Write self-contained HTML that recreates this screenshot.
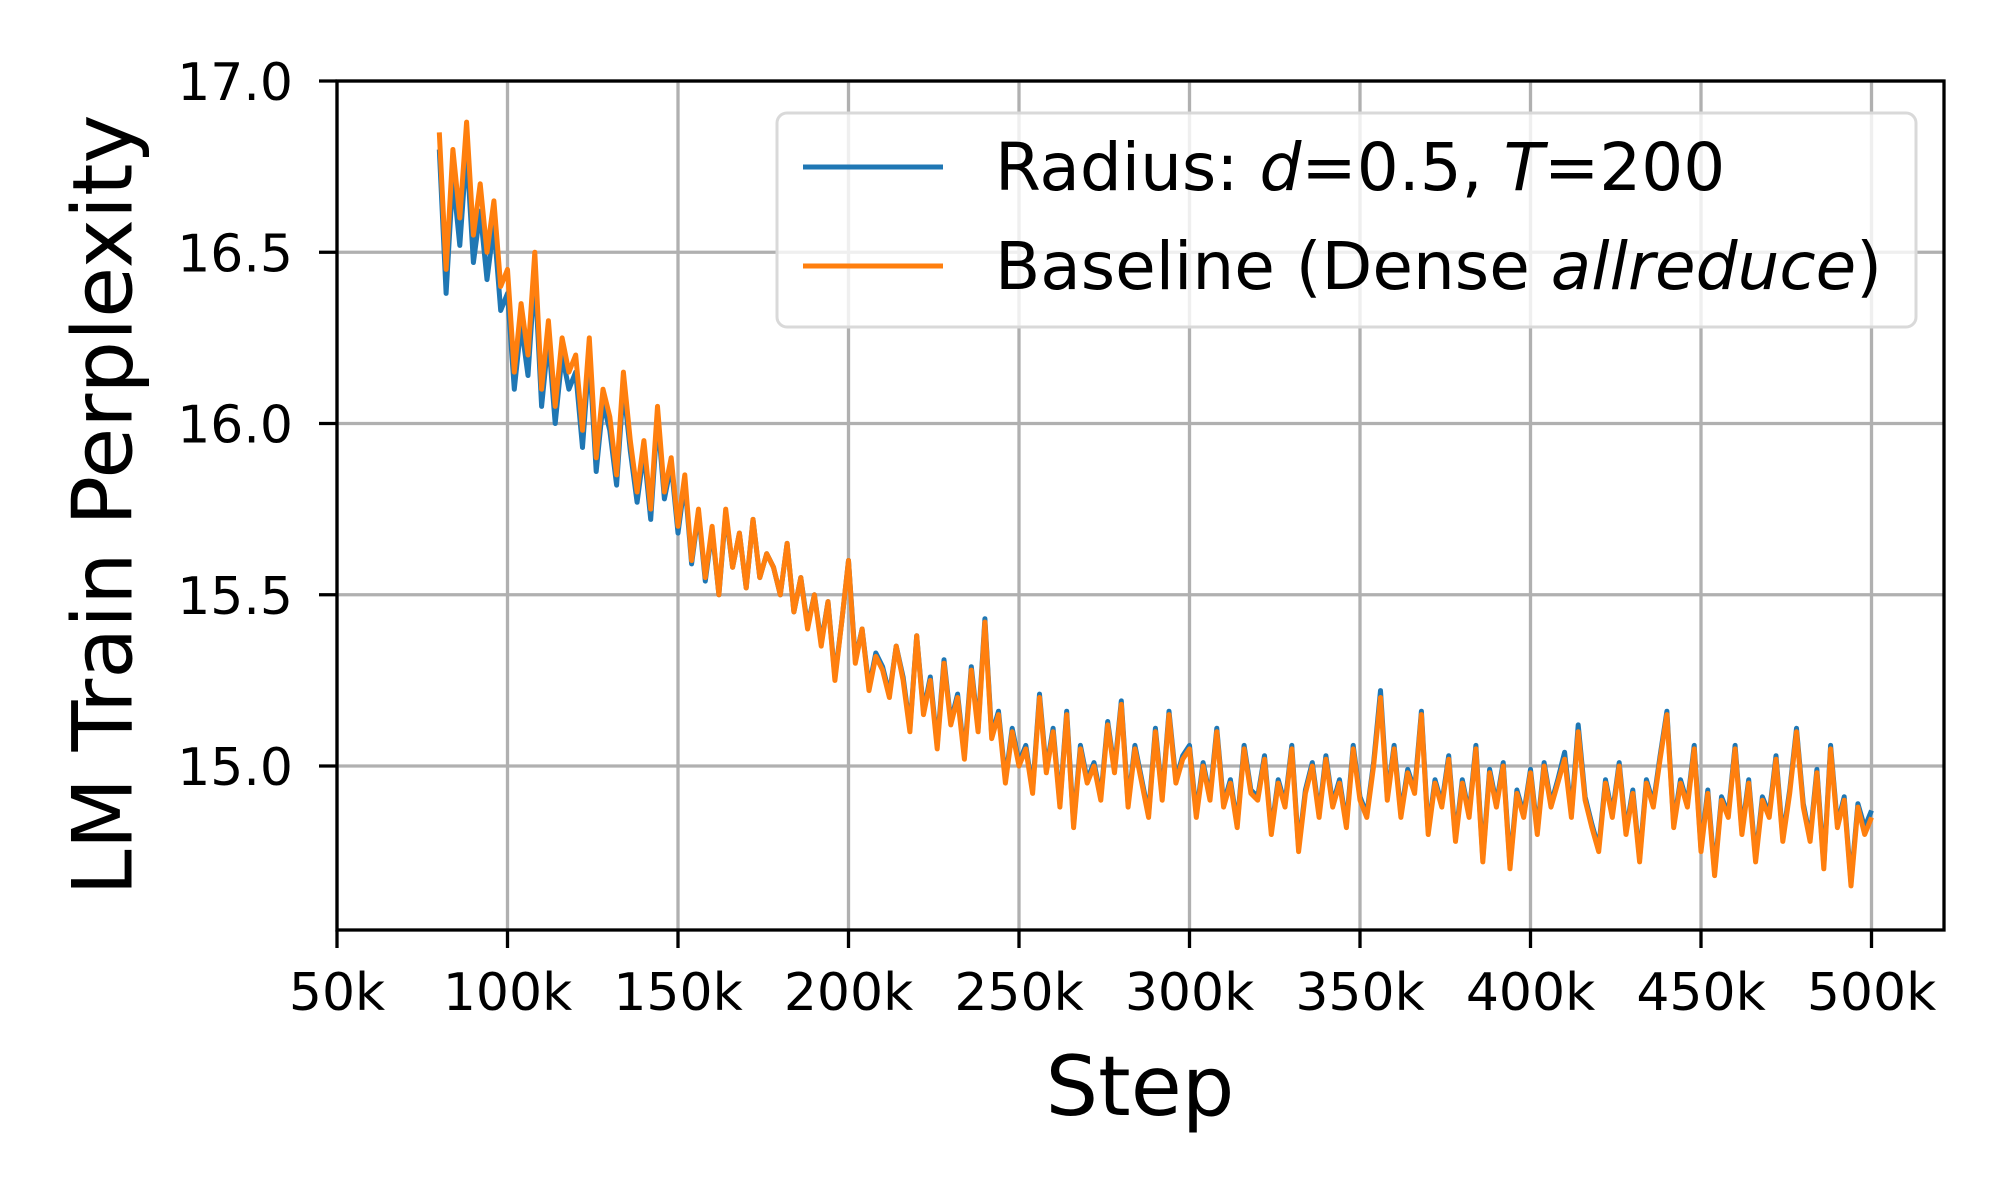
<!DOCTYPE html>
<html><head><meta charset="utf-8">
<style>
html,body{margin:0;padding:0;background:#fff;}
svg{display:block;font-family:"DejaVu Sans","Liberation Sans",sans-serif;}
</style></head>
<body>
<svg id="chart" width="2000" height="1200" viewBox="0 0 2000 1200" xmlns="http://www.w3.org/2000/svg">
<rect width="2000" height="1200" fill="#fff"/>
<g id="grid"></g>
<g id="series"></g>
<rect x="337" y="81" width="1607" height="849" fill="none" stroke="#000" stroke-width="3.3"/>
<g id="ticks"></g>
<text x="103" y="505" font-size="83" text-anchor="middle" dominant-baseline="central" transform="rotate(-90 103 505)">LM Train Perplexity</text>
<text x="1140" y="1115" font-size="83" text-anchor="middle">Step</text>
<g>
<rect x="777" y="113" width="1139" height="214" rx="10" fill="#fff" fill-opacity="0.8" stroke="#d9d9d9" stroke-width="3"/>
<line x1="803" y1="167" x2="943" y2="167" stroke="#1f77b4" stroke-width="5"/>
<text x="995" y="190" font-size="66">Radius: <tspan font-style="italic">d</tspan>=0.5, <tspan font-style="italic">T</tspan>=200</text>
<line x1="803" y1="266" x2="943" y2="266" stroke="#ff7f0e" stroke-width="5"/>
<text x="995" y="289" font-size="66">Baseline (Dense <tspan font-style="italic">allreduce</tspan>)</text>
</g>
</svg>
<script>
const stepStart = 80;
const stepSize = 2;
const baseline = [
16.85,16.45,16.8,16.6,16.88,16.55,16.7,16.5,16.65,16.4,
16.45,16.15,16.35,16.2,16.5,16.1,16.3,16.05,16.25,16.15,
16.2,15.98,16.25,15.9,16.1,16.02,15.85,16.15,15.95,15.8,
15.95,15.75,16.05,15.8,15.9,15.7,15.85,15.6,15.75,15.55,
15.7,15.5,15.75,15.58,15.68,15.52,15.72,15.55,15.62,15.58,
15.5,15.65,15.45,15.55,15.4,15.5,15.35,15.48,15.25,15.42,
15.6,15.3,15.4,15.22,15.32,15.28,15.2,15.35,15.25,15.1,
15.38,15.15,15.25,15.05,15.3,15.12,15.2,15.02,15.28,15.1,
15.42,15.08,15.15,14.95,15.1,15.0,15.05,14.92,15.2,14.98,
15.1,14.88,15.15,14.82,15.05,14.95,15.0,14.9,15.12,14.98,
15.18,14.88,15.05,14.95,14.85,15.1,14.9,15.15,14.95,15.02,
15.05,14.85,15.0,14.9,15.1,14.88,14.95,14.82,15.05,14.92,
14.9,15.02,14.8,14.95,14.88,15.05,14.75,14.92,15.0,14.85,
15.02,14.88,14.95,14.82,15.05,14.9,14.85,15.0,15.2,14.9,
15.05,14.85,14.98,14.92,15.15,14.8,14.95,14.88,15.02,14.78,
14.95,14.85,15.05,14.72,14.98,14.88,15.0,14.7,14.92,14.85,
14.98,14.8,15.0,14.88,14.95,15.02,14.85,15.1,14.9,14.82,
14.75,14.95,14.85,15.0,14.8,14.92,14.72,14.95,14.88,15.02,
15.15,14.82,14.95,14.88,15.05,14.75,14.92,14.68,14.9,14.85,
15.05,14.8,14.95,14.72,14.9,14.85,15.02,14.78,14.92,15.1,
14.88,14.78,14.98,14.7,15.05,14.82,14.9,14.65,14.88,14.8,
14.85];
const radius = [
16.8,16.38,16.72,16.52,16.8,16.47,16.62,16.42,16.58,16.33,
16.38,16.1,16.29,16.14,16.44,16.05,16.25,16.0,16.2,16.1,
16.15,15.93,16.2,15.86,16.06,15.98,15.82,16.11,15.92,15.77,
15.92,15.72,16.02,15.78,15.88,15.68,15.83,15.59,15.74,15.54,
15.69,15.5,15.74,15.58,15.68,15.52,15.72,15.55,15.62,15.58,
15.5,15.65,15.45,15.55,15.41,15.5,15.36,15.48,15.26,15.42,
15.6,15.31,15.4,15.23,15.33,15.29,15.21,15.35,15.26,15.11,
15.38,15.16,15.26,15.06,15.31,15.13,15.21,15.03,15.29,15.11,
15.43,15.09,15.16,14.96,15.11,15.01,15.06,14.93,15.21,14.99,
15.11,14.89,15.16,14.83,15.06,14.96,15.01,14.91,15.13,14.99,
15.19,14.89,15.06,14.96,14.86,15.11,14.91,15.16,14.96,15.03,
15.06,14.86,15.01,14.91,15.11,14.89,14.96,14.83,15.06,14.93,
14.91,15.03,14.81,14.96,14.89,15.06,14.76,14.93,15.01,14.86,
15.03,14.89,14.96,14.83,15.06,14.91,14.86,15.01,15.22,14.91,
15.06,14.86,14.99,14.93,15.16,14.81,14.96,14.89,15.03,14.79,
14.96,14.86,15.06,14.73,14.99,14.89,15.01,14.71,14.93,14.86,
14.99,14.81,15.01,14.89,14.96,15.04,14.86,15.12,14.91,14.83,
14.76,14.96,14.86,15.01,14.81,14.93,14.73,14.96,14.89,15.03,
15.16,14.83,14.96,14.89,15.06,14.76,14.93,14.69,14.91,14.86,
15.06,14.81,14.96,14.73,14.91,14.86,15.03,14.79,14.93,15.11,
14.89,14.79,14.99,14.71,15.06,14.83,14.91,14.66,14.89,14.82,
14.87];
const xTicks = [50,100,150,200,250,300,350,400,450,500];
const xTickLabels = ["50k","100k","150k","200k","250k","300k","350k","400k","450k","500k"];
const yTicks = [15.0,15.5,16.0,16.5,17.0];
const yTickLabels = ["15.0","15.5","16.0","16.5","17.0"];

const X0=337, PXK=170.5/50, Y17=81, PXU=342.5;
function xs(k){return X0+(k-50)*PXK;}
function ys(v){return Y17+(17-v)*PXU;}
const NS="http://www.w3.org/2000/svg";
const grid=document.getElementById('grid'), ticks=document.getElementById('ticks'), series=document.getElementById('series');
function mk(t,a){const e=document.createElementNS(NS,t);for(const k in a)e.setAttribute(k,a[k]);return e;}

xTicks.forEach((k,i)=>{
  const x=xs(k);
  const g=mk('line',{x1:x,y1:81,x2:x,y2:930,stroke:'#b0b0b0','stroke-width':3.3});
  
  
  grid.appendChild(g);
  const t=mk('line',{x1:x,y1:930,x2:x,y2:948,stroke:'#000','stroke-width':3.3});
  
  
  ticks.appendChild(t);
  const l=mk('text',{x:x,y:1010,'font-size':52,'text-anchor':'middle'});
  
  
  l.textContent=xTickLabels[i];
  ticks.appendChild(l);
});
yTicks.forEach((v,i)=>{
  const y=ys(v);
  const g=mk('line',{x1:337,y1:y,x2:1944,y2:y,stroke:'#b0b0b0','stroke-width':3.3});
  
  
  grid.appendChild(g);
  const t=mk('line',{x1:319,y1:y,x2:337,y2:y,stroke:'#000','stroke-width':3.3});
  
  
  ticks.appendChild(t);
  const l=mk('text',{x:293,y:y+19,'font-size':52,'text-anchor':'end'});
  
  
  l.textContent=yTickLabels[i];
  ticks.appendChild(l);
});
function path(vals,color,name){
  const d=vals.map((v,i)=>(i?'L':'M')+xs(stepStart+i*stepSize).toFixed(1)+' '+ys(v).toFixed(1)).join(' ');
  const p=mk('path',{d:d,fill:'none',stroke:color,'stroke-width':5,'stroke-linejoin':'round'});
  
  
  series.appendChild(p);
}
path(radius,'#1f77b4','radius-line');
path(baseline,'#ff7f0e','baseline-line');
</script>
</body></html>
